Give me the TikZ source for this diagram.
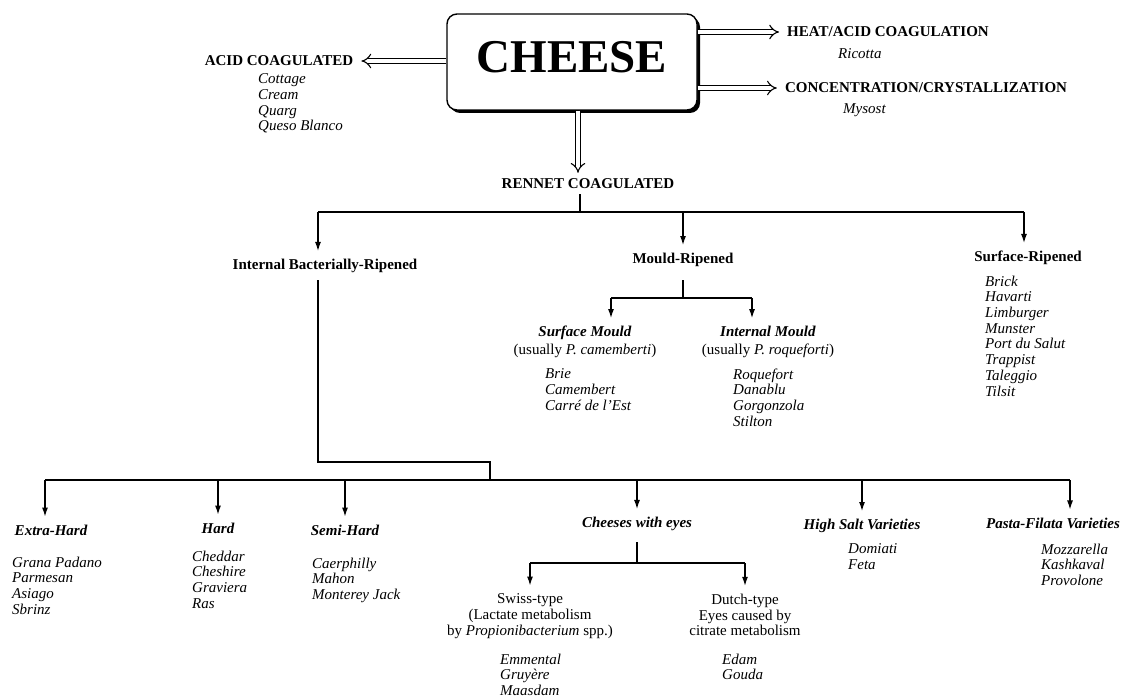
\documentclass[tikz,border=0pt]{standalone}
\usepackage{fontspec}
\setmainfont{Liberation Serif}
\usetikzlibrary{arrows.meta,shapes,shadows}

\begin{document}
\fontsize{15}{15.7}\selectfont
\begin{tikzpicture}[x=1pt,y=-1pt,
  head/.style={font=\bfseries,inner sep=0pt},
  headit/.style={font=\bfseries\itshape,inner sep=0pt},
  kinds/.style={font=\itshape,align=left,anchor=north west,inner sep=0pt},
  note/.style={align=center,inner sep=0pt},
  bus/.style={line width=1.2pt},
  arr/.style={line width=1.2pt,-{Latex[length=9pt,width=6pt]},shorten >=8pt},
  dbl/.style={double,double distance=4pt,line width=1.1pt,-{Implies[scale=1.5]},shorten >=8pt}]

  \fill[white] (0,0) rectangle (1124,698);
  \useasboundingbox (0,0) rectangle (1124,698);

  \node[draw,fill=white,rounded corners=10pt,line width=1.4pt,
    minimum width=250pt,minimum height=96pt,text depth=10pt,
    font=\fontsize{47}{50}\selectfont\bfseries,
    drop shadow={shadow xshift=3pt,shadow yshift=-3pt,opacity=1,fill=black}]
    (cheese) at (572,62) {CHEESE};

  \node[head] (acid) at (279,61) {ACID COAGULATED};
  \node[kinds] (acidlist) at (258,73.5) {Cottage\\Cream\\Quarg\\Queso Blanco};
  \node[head] (heat) at (888,32) {HEAT/ACID COAGULATION};
  \node[kinds] (ricotta) at (838,48.5) {Ricotta};
  \node[head] (conc) at (926,88) {CONCENTRATION/CRYSTALLIZATION};
  \node[kinds] (mysost) at (843,103.5) {Mysost};
  \node[head] (rennet) at (588,184) {RENNET COAGULATED};

  \draw[dbl] (cheese.west |- acid) -- (acid.east);
  \draw[dbl] (cheese.east |- heat) -- (heat.west);
  \draw[dbl] (cheese.east |- conc) -- (conc.west);
  \draw[dbl,shorten >=6pt] ([xshift=6pt]cheese.south) -- ([xshift=6pt]cheese.south |- rennet.north);

  % rennet coagulated
  \node[head] (ibr) at (325,266) {Internal Bacterially-Ripened};
  \node[head] (mould) at (683,260) {Mould-Ripened};
  \node[head] (surf) at (1028,258) {Surface-Ripened};
  \node[kinds] (surflist) at (985,275.5)
    {Brick\\Havarti\\Limburger\\Munster\\Port du Salut\\Trappist\\Taleggio\\Tilsit};

  \coordinate (rb) at (580,212);
  \coordinate (b1w) at (318,212);
  \coordinate (b1e) at (1024,212);
  \draw[bus,shorten <=5pt] (rb |- rennet.south) -- (rb);
  \draw[bus] (b1w) -- (b1e);
  \draw[arr] (b1w) -- (b1w |- ibr.north);
  \draw[arr] (mould.north |- b1w) -- (mould.north);
  \draw[arr] (b1e) -- (b1e |- surf.north);

  \node[note] (smould) at (585,342)
    {\textbf{\textit{Surface Mould}}\\[2pt](usually \textit{P. camemberti})};
  \node[note] (imould) at (768,342)
    {\textbf{\textit{Internal Mould}}\\[2pt](usually \textit{P. roqueforti})};
  \node[kinds] (smouldlist) at (545,368.5) {Brie\\Camembert\\Carré de l'Est};
  \node[kinds] (imouldlist) at (733,368.5) {Roquefort\\Danablu\\Gorgonzola\\Stilton};

  \coordinate (mb) at (683,298);
  \coordinate (mbw) at (611,298);
  \coordinate (mbe) at (752,298);
  \draw[bus,shorten <=13pt] (mould.south) -- (mb);
  \draw[bus] (mbw) -- (mbe);
  \draw[arr] (mbw) -- (mbw |- smould.north);
  \draw[arr] (mbe) -- (mbe |- imould.north);

  % internal bacterially-ripened
  \node[headit] (extra) at (51,530) {Extra-Hard};
  \node[headit] (hard) at (218,528) {Hard};
  \node[headit] (semi) at (345,530) {Semi-Hard};
  \node[headit] (eyes) at (637,524) {Cheeses with eyes};
  \node[headit] (salt) at (862,526) {High Salt Varieties};
  \node[headit] (pasta) at (1053,523) {Pasta-Filata Varieties};
  \node[kinds] (extralist) at (12,556.5) {Grana Padano\\Parmesan\\Asiago\\Sbrinz};
  \node[kinds] (hardlist) at (192,550.5) {Cheddar\\Cheshire\\Graviera\\Ras};
  \node[kinds] (semilist) at (312,557.5) {Caerphilly\\Mahon\\Monterey Jack};
  \node[kinds] (saltlist) at (848,543.5) {Domiati\\Feta};
  \node[kinds] (pastalist) at (1041,543.5) {Mozzarella\\Kashkaval\\Provolone};

  \coordinate (ib1) at (318,462);
  \coordinate (ib2) at (490,462);
  \coordinate (b2w) at (45,480);
  \coordinate (b2e) at (1070,480);
  \draw[bus,shorten <=7pt] (ib1 |- ibr.south) -- (ib1) -- (ib2) -- (ib2 |- b2w);
  \draw[bus] (b2w) -- (b2e);
  \draw[arr] (b2w) -- (b2w |- extra.north);
  \draw[arr] (hard.north |- b2w) -- (hard.north);
  \draw[arr] (semi.north |- b2w) -- (semi.north);
  \draw[arr] (eyes.north |- b2w) -- (eyes.north);
  \draw[arr] (salt.north |- b2w) -- (salt.north);
  \draw[arr] (b2e) -- (b2e |- pasta.north);

  \node[note] (swiss) at (530,616)
    {Swiss-type\\(Lactate metabolism\\by \textit{Propionibacterium} spp.)};
  \node[note] (dutch) at (745,615)
    {Dutch-type\\Eyes caused by\\citrate metabolism};
  \node[kinds] (swisslist) at (500,653.5) {Emmental\\Gruyère\\Maasdam};
  \node[kinds] (dutchlist) at (722,653.5) {Edam\\Gouda};

  \coordinate (eb) at (637,563);
  \coordinate (ebw) at (530,563);
  \coordinate (ebe) at (745,563);
  \draw[bus,shorten <=11pt] (eyes.south) -- (eb);
  \draw[bus] (ebw) -- (ebe);
  \draw[arr] (ebw) -- (ebw |- swiss.north);
  \draw[arr] (ebe) -- (ebe |- dutch.north);
\end{tikzpicture}
\end{document}
